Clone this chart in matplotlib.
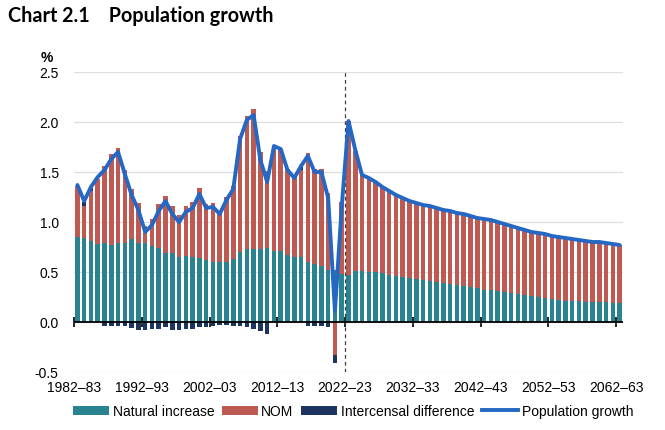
import numpy as np
import matplotlib
matplotlib.use("Agg")
import matplotlib.pyplot as plt
from matplotlib.lines import Line2D
from matplotlib.patches import Patch

# ---------------- data ----------------
start_years = list(range(1982, 2063))  # 1982-83 ... 2062-63
categories = [f"{y}\u2013{str(y + 1)[-2:]}" for y in start_years]

natural_increase = [
    0.85, 0.84, 0.81, 0.78, 0.79, 0.77, 0.79, 0.79, 0.83, 0.79,
    0.79, 0.76, 0.74, 0.69, 0.69, 0.65, 0.66, 0.65, 0.64, 0.62,
    0.60, 0.60, 0.60, 0.63, 0.70, 0.73, 0.73, 0.73, 0.74, 0.71,
    0.71, 0.67, 0.65, 0.65, 0.60, 0.58, 0.56, 0.52, 0.52, 0.48,
    0.47, 0.51, 0.51, 0.50, 0.50, 0.49, 0.47, 0.46, 0.45, 0.44,
    0.43, 0.42, 0.41, 0.40, 0.39, 0.38, 0.37, 0.36, 0.35, 0.34,
    0.32, 0.32, 0.31, 0.30, 0.29, 0.28, 0.27, 0.26, 0.25, 0.24,
    0.23, 0.22, 0.21, 0.21, 0.21, 0.20, 0.20, 0.20, 0.20, 0.19,
    0.19,
]

nom = [
    0.51, 0.32, 0.50, 0.65, 0.77, 0.91, 0.95, 0.73, 0.50, 0.40,
    0.17, 0.27, 0.44, 0.57, 0.47, 0.42, 0.50, 0.55, 0.70, 0.56,
    0.59, 0.50, 0.65, 0.73, 1.16, 1.33, 1.40, 0.97, 0.77, 1.05,
    1.02, 0.86, 0.80, 0.87, 1.09, 0.95, 0.97, 0.77, -0.33, 0.72,
    1.54, 1.20, 0.96, 0.94, 0.90, 0.86, 0.84, 0.81, 0.79, 0.77,
    0.76, 0.75, 0.75, 0.74, 0.73, 0.73, 0.72, 0.72, 0.71, 0.70,
    0.71, 0.70, 0.69, 0.68, 0.67, 0.66, 0.65, 0.64, 0.64, 0.64,
    0.63, 0.63, 0.63, 0.62, 0.61, 0.61, 0.60, 0.60, 0.59, 0.59,
    0.58,
]

intercensal = [
    0.00, 0.04, 0.03, 0.00, -0.04, -0.04, -0.04, -0.04, -0.06, -0.08,
    -0.08, -0.07, -0.07, -0.05, -0.08, -0.08, -0.07, -0.07, -0.05, -0.05,
    -0.04, -0.03, -0.03, -0.04, -0.04, -0.05, -0.07, -0.09, -0.12, 0.00,
    0.00, 0.00, 0.00, 0.03, -0.04, -0.04, -0.04, -0.05, -0.08, 0.00,
] + [0.0] * 41

population_growth = [
    1.37, 1.21, 1.35, 1.45, 1.52, 1.63, 1.70, 1.48, 1.27, 1.12,
    0.90, 0.97, 1.11, 1.21, 1.08, 1.00, 1.10, 1.14, 1.28, 1.14,
    1.15, 1.08, 1.22, 1.33, 1.83, 2.02, 2.07, 1.62, 1.40, 1.76,
    1.73, 1.52, 1.44, 1.56, 1.66, 1.50, 1.50, 1.24, 0.11, 1.15,
    2.01, 1.72, 1.47, 1.44, 1.40, 1.35, 1.31, 1.27, 1.24, 1.21,
    1.19, 1.17, 1.16, 1.14, 1.12, 1.11, 1.09, 1.08, 1.06, 1.04,
    1.03, 1.02, 1.00, 0.98, 0.96, 0.94, 0.92, 0.90, 0.89, 0.88,
    0.86, 0.85, 0.84, 0.83, 0.82, 0.81, 0.80, 0.80, 0.79, 0.78,
    0.77,
]

projection_start = "2022\u201323"
tick_every = 10
y_ticks = [-0.5, 0.0, 0.5, 1.0, 1.5, 2.0, 2.5]

# ---------------- style ----------------
C_TEAL = "#2a8390"
C_RED = "#bf5a52"
C_NAVY = "#1d3461"
C_BLUE = "#2468c4"

plt.rcParams["font.family"] = ["Liberation Sans", "DejaVu Sans"]

fig = plt.figure(figsize=(6.65, 4.31), dpi=100)
ax = fig.add_axes([74 / 665, 1 - 373 / 431, (623 - 74) / 665, 300 / 431])

n = len(categories)
x = np.arange(n) + 0.5
ni = np.array(natural_increase)
nm = np.array(nom)
ic = np.array(intercensal)

bw = 0.68
ax.bar(x, ni, width=bw, color=C_TEAL, zorder=2, linewidth=0)
nom_bottom = np.where(nm >= 0, ni, 0.0)
ax.bar(x, nm, bottom=nom_bottom, width=bw, color=C_RED, zorder=2, linewidth=0)
ic_bottom = np.where(ic >= 0, ni + np.clip(nm, 0, None), np.clip(nm, None, 0))
ax.bar(x, ic, bottom=ic_bottom, width=bw, color=C_NAVY, zorder=2, linewidth=0)

ax.plot(x, population_growth, color=C_BLUE, lw=2.8, zorder=4,
        solid_joinstyle="round", solid_capstyle="round")

# projection divider
px = categories.index(projection_start)
ax.axvline(px, color="#404040", lw=0.9, ls=(0, (3, 2.5)), zorder=3)

ax.set_xlim(0, n)
ax.set_ylim(-0.5, 2.5)
ax.set_yticks(y_ticks)
ax.set_yticklabels([f"{v:.1f}" for v in y_ticks])
ax.grid(axis="y", color="#dedede", lw=0.9, zorder=0)
ax.set_axisbelow(True)
for s in ax.spines.values():
    s.set_visible(False)

tick_pos = list(range(0, n, tick_every))
ax.set_xticks(tick_pos)
ax.set_xticklabels([categories[i] for i in tick_pos])
ax.tick_params(axis="x", length=0, pad=6, labelsize=10, colors="black")
ax.tick_params(axis="y", length=0, pad=11, labelsize=10, colors="black")

# zero line with tick marks
ax.axhline(0, color="black", lw=1.3, zorder=3.5)
zero_loc = (0 - (-0.5)) / 3.0
sec = ax.secondary_xaxis(zero_loc)
sec.set_xticks(tick_pos)
sec.set_xticklabels([])
sec.tick_params(axis="x", direction="inout", length=7, width=1.2, color="black")
sec.spines["bottom"].set_visible(False)

# labels
fig.text(8 / 665, 1 - 16 / 431, "Chart 2.1    Population growth",
         fontsize=14.2, fontweight="bold", family=["Lato", "DejaVu Sans"],
         ha="left", va="center")
fig.text(47 / 665, 1 - 58 / 431, "%", fontsize=10, ha="center", va="center",
         fontweight="bold")

handles = [
    Patch(facecolor=C_TEAL, label="Natural increase"),
    Patch(facecolor=C_RED, label="NOM"),
    Patch(facecolor=C_NAVY, label="Intercensal difference"),
    Line2D([0], [0], color=C_BLUE, lw=2.8, label="Population growth"),
]
fig.legend(handles=handles, loc="center", bbox_to_anchor=(353 / 665, 1 - 412 / 431),
           ncol=4, frameon=False, fontsize=10, handlelength=2.6, handleheight=0.6,
           handletextpad=0.25, columnspacing=0.55, borderpad=0)

fig.savefig("out.png", dpi=100)
